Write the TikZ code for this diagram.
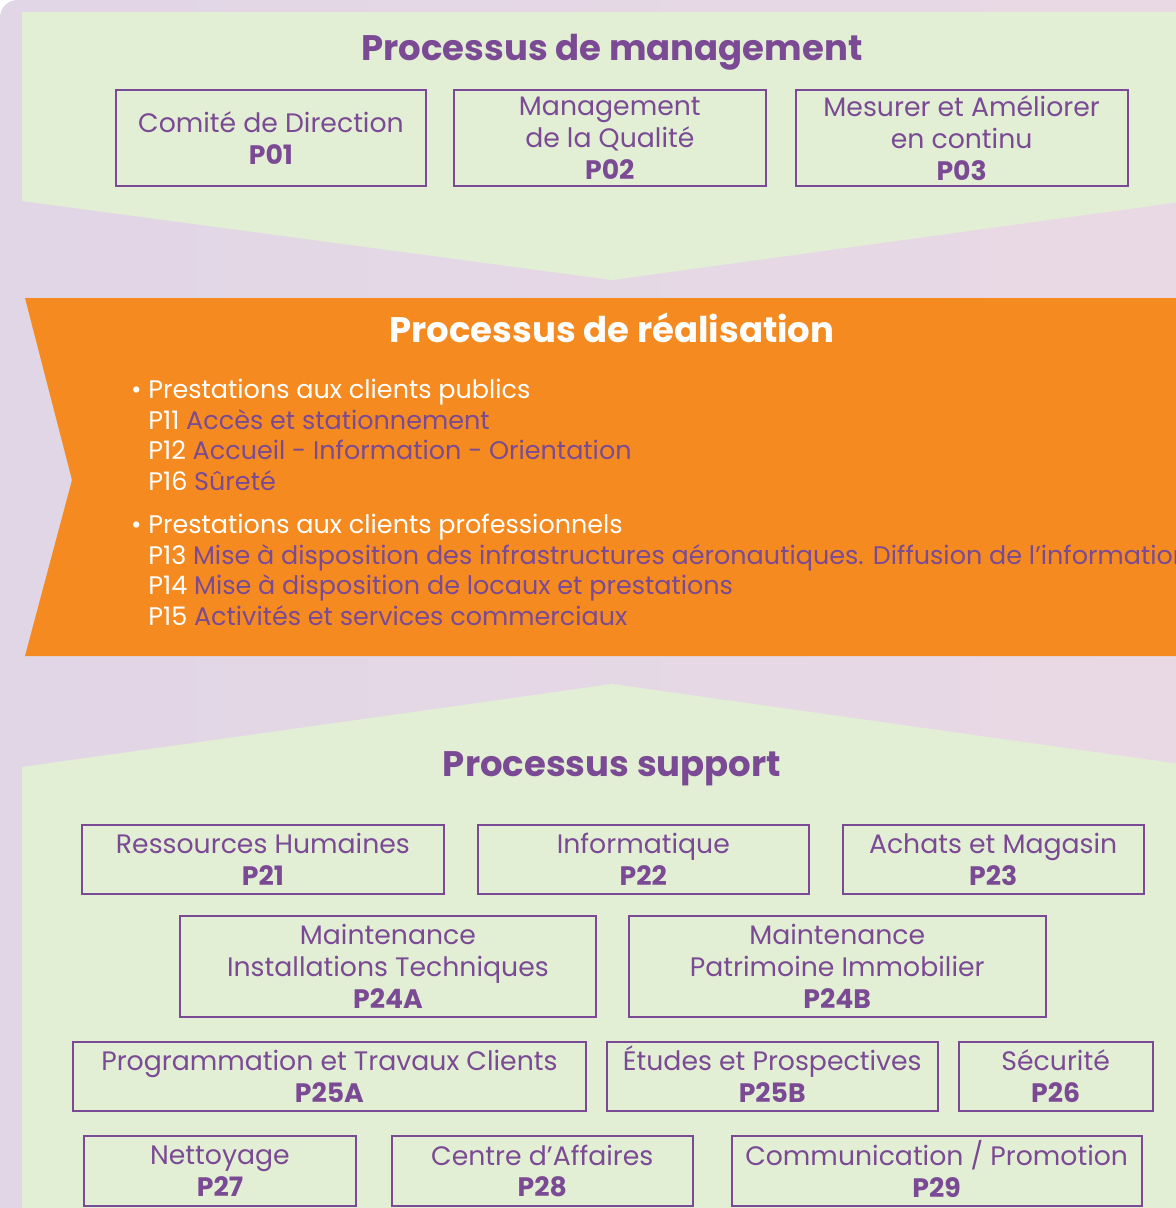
\documentclass[tikz,border=0pt]{standalone}
\usepackage{fontspec}
\setmainfont{Poppins}
\usetikzlibrary{positioning}
\definecolor{bgpurple}{HTML}{E1D6E6}
\definecolor{bgpink}{HTML}{E9D9E5}
\definecolor{mgreen}{HTML}{E2EFD5}
\definecolor{morange}{HTML}{F58B20}
\definecolor{mpurple}{HTML}{7B4A94}
\newcommand{\boxfont}{\fontsize{15.2}{18.2}\selectfont}
\newcommand{\listfont}{\fontsize{14.5}{17.4}\selectfont}
\newcommand{\titlefont}{\fontsize{20.2}{24}\selectfont\bfseries}
\newcommand{\pcode}[2]{\textcolor{white}{#1} #2}

\begin{document}
\begin{tikzpicture}[x=0.02cm, y=-0.02cm,
    procbox/.style={draw=mpurple, line width=1.1pt, text=mpurple, align=center,
      inner sep=0pt, font=\boxfont},
    title/.style={font=\titlefont, text=mpurple, anchor=base},
    listtext/.style={font=\listfont, text=mpurple, align=left, inner sep=0pt}]
  \useasboundingbox (0,0) rectangle (1176,1208);
  \clip (0,0) rectangle (1176,1208);
  % background bands
  \shade[left color=bgpurple, right color=bgpink]
    (1176,1208) -- (0,1208) [rounded corners=10pt] -- (0,0) [sharp corners] -- (1176,0) -- cycle;
  \fill[mgreen] (22,12) -- (1180,12) -- (1180,202) -- (612,280) -- (22,201) -- cycle;
  \fill[morange] (25,298) -- (1180,298) -- (1180,656) -- (25,656) -- (72,480) -- cycle;
  \fill[mgreen] (612,684) -- (1180,764) -- (1180,1210) -- (22,1210) -- (22,767) -- cycle;

  % management
  \node(mgmt) [title] at (612,60) {Processus de management};
  \node(p01) [procbox, minimum width=6.2cm, minimum height=1.92cm, anchor=north west] at (115,89)
    {Comité de Direction\\\textbf{P01}};
  \node(p02) [procbox, minimum width=6.24cm, minimum height=1.92cm, right=0.52cm of p01]
    {Management\\de la Qualité\\\textbf{P02}};
  \node(p03) [procbox, minimum width=6.64cm, minimum height=1.92cm, right=0.56cm of p02]
    {Mesurer et Améliorer\\en continu\\\textbf{P03}};

  % realisation
  \node(real) [title, text=white] at (612,342) {Processus de réalisation};
  \node(pub) [listtext, anchor=north west] at (148,379)
    {\llap{\textcolor{white}{\textbullet}\ }\textcolor{white}{Prestations aux clients publics}\\
     \pcode{P11}{Accès et stationnement}\\
     \pcode{P12}{Accueil - Information - Orientation}\\
     \pcode{P16}{Sûreté}};
  \node(pro) [listtext, below=0.46cm of pub.south west, anchor=north west]
    {\llap{\textcolor{white}{\textbullet}\ }\textcolor{white}{Prestations aux clients professionnels}\\
     \pcode{P13}{Mise à disposition des infrastructures aéronautiques. Diffusion de l’information}\\
     \pcode{P14}{Mise à disposition de locaux et prestations}\\
     \pcode{P15}{Activités et services commerciaux}};

  % support
  \node(supp) [title] at (612,776) {Processus support};
  \node(p21) [procbox, minimum width=7.24cm, minimum height=1.38cm, anchor=north west] at (81,824)
    {Ressources Humaines\\\textbf{P21}};
  \node(p22) [procbox, minimum width=6.62cm, minimum height=1.38cm, right=0.64cm of p21]
    {Informatique\\\textbf{P22}};
  \node(p23) [procbox, minimum width=6.02cm, minimum height=1.38cm, right=0.64cm of p22]
    {Achats et Magasin\\\textbf{P23}};
  \node(p24a) [procbox, minimum width=8.32cm, minimum height=2.02cm, anchor=north west] at (179,915)
    {Maintenance\\Installations Techniques\\\textbf{P24A}};
  \node(p24b) [procbox, minimum width=8.34cm, minimum height=2.02cm, right=0.62cm of p24a]
    {Maintenance\\Patrimoine Immobilier\\\textbf{P24B}};
  \node(p25a) [procbox, minimum width=10.26cm, minimum height=1.38cm, anchor=north west] at (72,1041)
    {Programmation et Travaux Clients\\\textbf{P25A}};
  \node(p25b) [procbox, minimum width=6.62cm, minimum height=1.38cm, right=0.38cm of p25a]
    {\smash{É}tudes et Prospectives\\\textbf{P25B}};
  \node(p26) [procbox, minimum width=3.88cm, minimum height=1.38cm, right=0.38cm of p25b]
    {Sécurité\\\textbf{P26}};
  \node(p27) [procbox, minimum width=5.44cm, minimum height=1.4cm, anchor=north west] at (83,1135)
    {Nettoyage\\\textbf{P27}};
  \node(p28) [procbox, minimum width=6.02cm, minimum height=1.4cm, right=0.68cm of p27]
    {Centre d’Affaires\\\textbf{P28}};
  \node(p29) [procbox, minimum width=8.2cm, minimum height=1.4cm, right=0.74cm of p28]
    {Communication \smash{/} Promotion\\\textbf{P29}};
\end{tikzpicture}
\end{document}
